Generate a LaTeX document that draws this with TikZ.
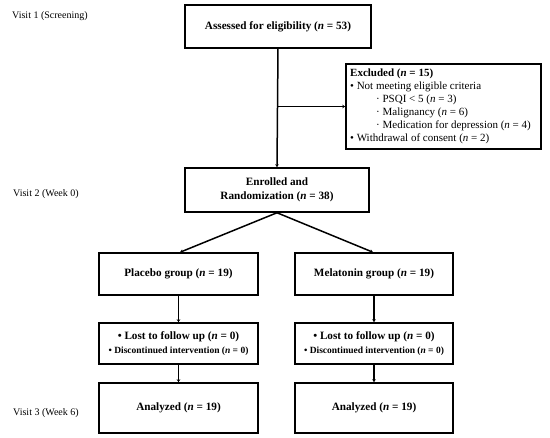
\documentclass[tikz,border=0pt]{standalone}
\usepackage{fontspec}
\setmainfont{Liberation Serif}
\usetikzlibrary{arrows.meta}
\begin{document}
\begin{tikzpicture}[x=1pt,y=-1pt,
  box/.style={draw, line width=1.5pt, inner sep=0pt, align=center, font=\fontsize{11.2}{14}\selectfont\bfseries},
  conn/.style={line width=1.5pt, -{Stealth[length=3pt,width=3.5pt]}},
  visit/.style={anchor=west, inner sep=0pt, font=\fontsize{10}{12}\selectfont}]
\useasboundingbox (0,0) rectangle (550,438);
\node[box, minimum width=186pt, minimum height=43pt] (assess) at (278,26.5) {Assessed for eligibility (\textit{n} = 53)};
\node[draw, line width=1.5pt, minimum width=195pt, minimum height=85pt, inner sep=0pt] (excl) at (443.5,106.5) {};
\node[anchor=north west, inner sep=0pt, align=left, font=\fontsize{11}{13}\selectfont] (excltext) at (350,69) {%
\textbf{Excluded (\textit{n} = 15)}\\
• Not meeting eligible criteria\\
\hspace{26pt}· PSQI < 5 (\textit{n} = 3)\\
\hspace{26pt}· Malignancy (\textit{n} = 6)\\
\hspace{26pt}· Medication for depression (\textit{n} = 4)\\
• Withdrawal of consent (\textit{n} = 2)};
\node[box, minimum width=184pt, minimum height=44pt] (enrol) at (277,190) {Enrolled and\\Randomization (\textit{n} = 38)};
\node[box, minimum width=159pt, minimum height=42pt] (plac) at (178.5,274) {Placebo group (\textit{n} = 19)};
\node[box, minimum width=158pt, minimum height=42pt] (mela) at (374,274) {Melatonin group (\textit{n} = 19)};
\node[box, minimum width=159pt, minimum height=41pt] (lostp) at (178.5,343.5) {• Lost to follow up (\textit{n} = 0)\\{\fontsize{9.5}{12}\selectfont• Discontinued intervention (\textit{n} = 0)}};
\node[box, minimum width=158pt, minimum height=41pt] (lostm) at (374,343.5) {• Lost to follow up (\textit{n} = 0)\\{\fontsize{9.5}{12}\selectfont• Discontinued intervention (\textit{n} = 0)}};
\node[box, minimum width=159pt, minimum height=50pt] (anap) at (178.5,408) {Analyzed (\textit{n} = 19)};
\node[box, minimum width=158pt, minimum height=50pt] (anam) at (374,408) {Analyzed (\textit{n} = 19)};
\node[visit] (v1) at (12,16) {Visit 1 (Screening)};
\node[visit] (v2) at (13,194) {Visit 2 (Week 0)};
\node[visit] (v3) at (13,413) {Visit 3 (Week 6)};
\coordinate (branch) at (assess.south |- excl.west);
\draw[conn] (assess.south) -- (enrol.north);
\draw[conn] (branch) -- (excl.west);
\draw[conn] (enrol.south) -- ([xshift=1.5pt]plac.north);
\draw[conn] (enrol.south) -- ([xshift=-1pt]mela.north);
\draw[conn] (plac) -- (lostp);
\draw[conn] (lostp) -- (anap);
\draw[conn] (mela) -- (lostm);
\draw[conn] (lostm) -- (anam);
\end{tikzpicture}
\end{document}
